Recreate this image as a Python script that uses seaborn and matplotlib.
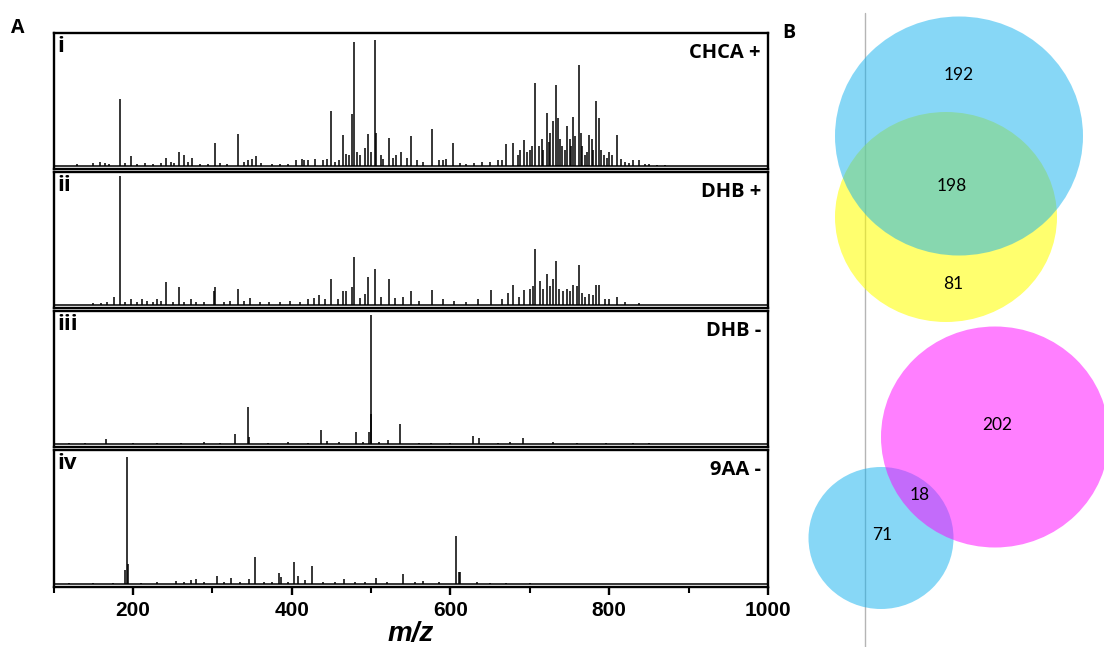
import numpy as np
import matplotlib
matplotlib.use('Agg')
import matplotlib.pyplot as plt
from matplotlib.patches import Ellipse
import seaborn as sns

# ===== DONNEES : spectres (m/z, intensite relative) =====
chca_mz = [130, 150, 159, 165, 170, 184, 190, 197.5, 205, 215, 225, 235, 242, 248, 252, 258, 264,
           270, 275, 285, 295, 304, 310, 318, 332, 340, 345, 350, 355, 362, 375, 385, 395, 405,
           412.5, 415, 420, 430, 440, 445, 450, 455, 460, 464.6, 468, 472, 476, 478, 482, 486,
           492, 496.5, 500, 505, 506, 512, 515, 522.5, 528, 532, 537.6, 545, 550, 558, 565, 577,
           585, 590, 595, 603.5, 612, 620, 630, 640, 650, 660, 665, 670, 679, 685, 688, 693, 697,
           700, 703, 707, 712, 715, 717, 721, 724, 726, 729, 733, 735, 738, 741, 744, 747, 750,
           752, 755, 757, 761.5, 764, 766, 770, 772, 775, 778, 780, 783, 787, 790, 793, 797, 800,
           803, 810, 815, 820, 825, 830, 838, 845, 850, 860, 870]
chca_int = [0.01, 0.02, 0.03, 0.02, 0.015, 0.50, 0.02, 0.07, 0.015, 0.02, 0.015, 0.02, 0.06, 0.03,
            0.02, 0.10, 0.08, 0.025, 0.06, 0.015, 0.015, 0.17, 0.02, 0.015, 0.24, 0.03, 0.04,
            0.05, 0.07, 0.02, 0.015, 0.015, 0.015, 0.04, 0.05, 0.04, 0.04, 0.05, 0.04, 0.05, 0.41,
            0.03, 0.04, 0.23, 0.09, 0.08, 0.39, 0.93, 0.10, 0.08, 0.13, 0.24, 0.10, 0.95, 0.25,
            0.08, 0.05, 0.21, 0.06, 0.08, 0.10, 0.06, 0.22, 0.04, 0.03, 0.28, 0.04, 0.04, 0.05,
            0.17, 0.02, 0.015, 0.02, 0.03, 0.03, 0.04, 0.04, 0.16, 0.17, 0.08, 0.12, 0.19, 0.10,
            0.12, 0.15, 0.62, 0.15, 0.20, 0.12, 0.40, 0.18, 0.25, 0.34, 0.61, 0.36, 0.20, 0.15,
            0.12, 0.30, 0.20, 0.15, 0.37, 0.22, 0.76, 0.25, 0.15, 0.08, 0.10, 0.23, 0.20, 0.12,
            0.49, 0.36, 0.12, 0.08, 0.06, 0.10, 0.08, 0.23, 0.05, 0.03, 0.02, 0.04, 0.04, 0.01,
            0.01, 0.005, 0.005]

dhbp_mz = [150, 160, 168, 175.7, 184, 190, 197.5, 205, 212, 218, 225, 230, 236, 242, 250, 258,
           265, 272.7, 280, 290, 302, 304, 315, 322, 332, 340, 348, 360, 372, 385, 398, 410, 420,
           428, 434, 442, 450, 458, 464.6, 468, 476, 478, 486, 492, 496.5, 505, 512, 522.5, 530,
           540, 550, 560, 577, 590, 605, 620, 635, 651, 665, 672, 679, 686, 693, 700, 704, 707,
           713, 717, 721, 725, 729, 733, 737, 742, 747, 750, 755, 759, 761.5, 766, 770, 775, 779,
           783, 787, 795, 800, 810, 820, 838]
dhbp_int = [0.01, 0.015, 0.02, 0.06, 0.97, 0.02, 0.04, 0.02, 0.045, 0.03, 0.02, 0.045, 0.03,
            0.17, 0.02, 0.13, 0.02, 0.045, 0.02, 0.02, 0.10, 0.13, 0.02, 0.03, 0.12, 0.03, 0.05,
            0.02, 0.02, 0.02, 0.03, 0.02, 0.04, 0.05, 0.07, 0.04, 0.19, 0.04, 0.10, 0.10, 0.13,
            0.36, 0.05, 0.08, 0.21, 0.27, 0.06, 0.19, 0.05, 0.06, 0.10, 0.03, 0.11, 0.04, 0.03,
            0.02, 0.04, 0.11, 0.04, 0.09, 0.15, 0.06, 0.11, 0.12, 0.14, 0.42, 0.18, 0.12, 0.23,
            0.14, 0.19, 0.33, 0.12, 0.10, 0.12, 0.10, 0.15, 0.14, 0.30, 0.09, 0.06, 0.08, 0.07,
            0.15, 0.15, 0.04, 0.04, 0.06, 0.02, 0.01]

dhbn_mz = [120, 140, 166, 200, 230, 260, 289, 310, 329, 344.5, 346, 370, 395, 420, 437, 445, 460,
           481, 490, 497.7, 499.5, 500.3, 510, 521, 537, 560, 575, 600, 628.8, 635.5, 660, 675,
           691.7, 729.5, 760, 796, 830, 850]
dhbn_int = [0.005, 0.005, 0.035, 0.005, 0.005, 0.005, 0.01, 0.005, 0.07, 0.28, 0.05, 0.005, 0.01,
            0.005, 0.10, 0.02, 0.01, 0.09, 0.01, 0.09, 0.97, 0.22, 0.01, 0.03, 0.15, 0.005, 0.005,
            0.005, 0.06, 0.045, 0.005, 0.01, 0.04, 0.01, 0.005, 0.005, 0.005, 0.005]

aa_mz = [120, 150, 175, 190.3, 192, 193.7, 210, 230, 254.6, 265, 272.7, 279, 290, 306, 315, 323,
         335, 345.7, 354, 365, 375, 384.3, 386, 395, 403, 408, 416.7, 426, 440, 455, 465.4, 480,
         492, 506, 520, 540.5, 555, 565, 585, 606.6, 610.7, 612, 633.8, 650, 670, 700]
aa_int = [0.005, 0.005, 0.005, 0.10, 0.95, 0.15, 0.005, 0.01, 0.02, 0.01, 0.03, 0.035, 0.01, 0.055,
          0.015, 0.04, 0.01, 0.035, 0.20, 0.01, 0.01, 0.08, 0.05, 0.015, 0.16, 0.055, 0.025, 0.13,
          0.01, 0.01, 0.035, 0.01, 0.015, 0.045, 0.01, 0.07, 0.01, 0.02, 0.01, 0.36, 0.09, 0.09,
          0.015, 0.005, 0.005, 0.005]

numerals = ['i', 'ii', 'iii', 'iv']
matrices = ['CHCA +', 'DHB +', 'DHB -', '9AA -']
xticks_major = [200, 400, 600, 800, 1000]
xticks_minor = [100, 300, 500, 700, 900]

# ===== DONNEES : diagrammes de Venn =====
venn_top_counts = [192, 198, 81]      # CHCA+ seul, commun, DHB+ seul
venn_bottom_counts = [202, 18, 71]    # DHB- seul, commun, 9AA- seul

# ===== FIGURE =====
sns.set_style("ticks")
plt.rcParams['font.family'] = ['Liberation Sans', 'DejaVu Sans']
plt.rcParams['text.color'] = 'black'
plt.rcParams['axes.labelcolor'] = 'black'
plt.rcParams['xtick.color'] = 'black'
plt.rcParams['axes.edgecolor'] = 'black'

fig = plt.figure(figsize=(11.04, 6.47), dpi=100)
W, H = 1104, 647

spectra = [(chca_mz, chca_int), (dhbp_mz, dhbp_int), (dhbn_mz, dhbn_int), (aa_mz, aa_int)]
panel_px = [(33, 169), (172, 308), (311, 447), (450, 587)]
left_px, right_px = 53.5, 768

axes = []
for k, ((mz, inten), (top, bot)) in enumerate(zip(spectra, panel_px)):
    ax = fig.add_axes([left_px / W, 1 - bot / H, (right_px - left_px) / W, (bot - top) / H])
    ax.vlines(mz, 0, inten, color='black', lw=1.1)
    ax.axhline(0, color='black', lw=1.1)
    ax.set_xlim(100, 1000)
    ax.set_ylim(-0.025, 1.0)
    ax.set_yticks([])
    for s in ax.spines.values():
        s.set_linewidth(1.7)
        s.set_color('black')
        s.set_visible(True)
    ax.text(0.006, 0.975, numerals[k], transform=ax.transAxes, ha='left', va='top',
            fontsize=16, fontweight='bold', family='Open Sans', color='black')
    ax.text(0.99, 0.93, matrices[k], transform=ax.transAxes, ha='right', va='top',
            fontsize=14.5, fontweight='bold', family='Open Sans', color='black')
    ax.set_xticks(xticks_major)
    ax.set_xticks(xticks_minor, minor=True)
    if k < 3:
        ax.tick_params(axis='x', which='both', bottom=False, labelbottom=False)
    else:
        ax.tick_params(axis='x', which='major', direction='out', length=6, width=1.7,
                       labelsize=15, pad=4, colors='black')
        ax.tick_params(axis='x', which='minor', direction='out', length=4, width=1.5,
                       colors='black')
        for lab in ax.get_xticklabels():
            lab.set_fontweight('bold')
        ax.set_xlabel('m/z', fontsize=20, fontweight='bold', fontstyle='italic', color='black')
        ax.xaxis.set_label_coords(0.5, -0.245)
    axes.append(ax)

# ===== PANNEAU B : Venn =====
axv = fig.add_axes([0, 0, 1, 1], zorder=-1)
axv.set_xlim(0, W)
axv.set_ylim(H, 0)
axv.axis('off')
axv.plot([864.5, 864.5], [13, H], color='#b5b5b5', lw=1.0, zorder=0)

# (centre x, centre y, largeur, hauteur, couleur, alpha)
ellipses = [
    (946, 217, 222, 210, '#ffff00', 0.57),
    (959, 136, 248, 239, '#14b2ef', 0.51),
    (881, 538, 145, 142, '#14b2ef', 0.51),
    (995, 437, 228, 221, '#ff00ff', 0.50),
]
for cx, cy, w, h, c, a in ellipses:
    axv.add_patch(Ellipse((cx, cy), w, h, facecolor=c, alpha=a, edgecolor='none', zorder=1))

label_pos_top = [(959, 75), (952, 186), (953, 284)]
label_pos_bot = [(997, 425), (920, 495), (882, 535)]
for (x, y), n in zip(label_pos_top + label_pos_bot, venn_top_counts + venn_bottom_counts):
    axv.text(x, y, str(n), ha='center', va='center', fontsize=12.5, family='Lato',
             color='black', zorder=3)

fig.text(18 / W, 1 - 28 / H, 'A', ha='center', va='center', fontsize=14, fontweight='bold',
         family='Open Sans', color='black')
fig.text(789 / W, 1 - 33 / H, 'B', ha='center', va='center', fontsize=14, fontweight='bold',
         family='Open Sans', color='black')

plt.savefig('out.png', dpi=100)
